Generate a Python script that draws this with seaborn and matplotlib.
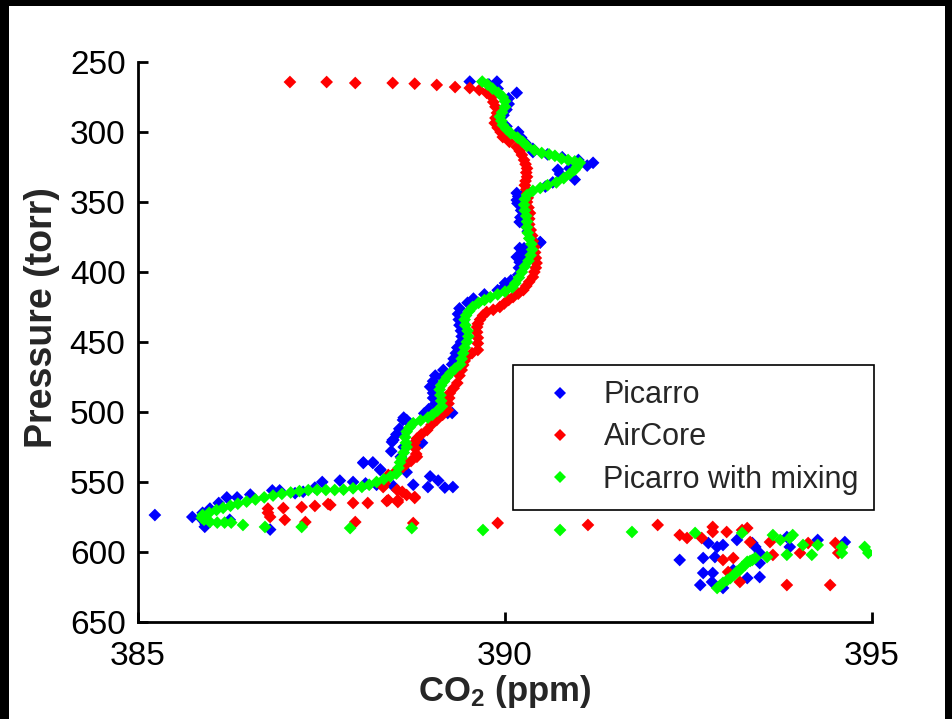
import matplotlib
matplotlib.use("Agg")
import matplotlib.pyplot as plt
import seaborn as sns
import pandas as pd
from matplotlib.patches import Rectangle

# ---------------- data ----------------
picarro_p = [264, 264, 266, 269, 272, 276, 280, 284, 288, 292, 296, 300, 304, 308, 312, 314.3,
             316, 318, 320, 322, 324, 326, 327, 330, 334, 336, 339, 343, 346, 351, 356, 361,
             366, 371, 376, 379, 383, 386, 389, 393, 397, 402, 406, 410, 413, 416, 419, 422,
             426, 430, 434, 438, 442, 446, 450, 454, 458, 462, 466, 470, 474, 478, 482, 486,
             490, 494, 498, 501, 504, 508, 512, 516, 520, 522, 525, 528, 532, 536, 536, 541,
             543, 546, 549, 552, 553.6, 554, 553.6, 549, 550, 550, 554, 557, 558, 556, 556,
             559, 561, 561, 565, 569, 572, 573.6, 575, 576, 578, 580, 582, 577, 584, 553,
             552, 551,
             407.9, 423.6, 435.7, 441.4, 475, 486.4, 490, 500.7, 505.7, 520, 522,
             343.6, 348.6, 364.3, 378.6, 382.9, 389.3, 505.7, 521.4, 522, 536.4, 536.4,
             541.4, 500.7,
             605.7, 604.3, 603.6, 593.6, 595, 591.4, 593.6, 596.4, 600.7, 607.9, 617.9,
             618.6, 615, 615, 623.6, 621.4, 625.7, 589.3, 596.4, 591.4, 592.9, 612.9, 596.4]
picarro_co2 = [389.52, 389.89, 389.78, 389.90, 390.16, 390.05, 390.05, 390.02, 389.98, 389.92,
               390.02, 390.18, 390.22, 390.28, 390.38, 390.38, 390.58, 390.78, 391.00, 391.20,
               391.12, 390.88, 390.72, 390.75, 390.95, 390.65, 390.55, 390.28, 390.18, 390.17,
               390.22, 390.21, 390.26, 390.31, 390.35, 390.48, 390.26, 390.24, 390.22, 390.20,
               390.19, 390.18, 390.08, 390.00, 389.90, 389.72, 389.57, 389.49, 389.38, 389.36,
               389.37, 389.38, 389.40, 389.41, 389.40, 389.35, 389.33, 389.30, 389.28, 389.16,
               389.05, 389.02, 388.98, 389.04, 389.02, 389.05, 388.96, 388.90, 388.62, 388.70,
               388.56, 388.52, 388.48, 388.77, 388.62, 388.45, 388.58, 388.07, 388.20, 388.30,
               388.66, 388.98, 389.09, 388.75, 388.95, 389.18, 389.29, 387.75, 387.93, 387.51,
               387.41, 387.25, 387.14, 386.93, 386.83, 386.53, 386.35, 386.21, 386.10, 385.98,
               385.88, 385.23, 385.74, 385.86, 385.90, 385.92, 385.91, 386.25, 386.80, 388.48,
               388.25, 388.10,
               390.00, 389.55, 389.43, 389.43, 389.14, 389.02, 389.05, 389.28, 388.61, 388.47,
               388.84,
               390.16, 390.16, 390.20, 390.48, 390.20, 390.16, 388.66, 388.46, 388.87, 388.07,
               388.20, 388.30, 389.22,
               392.38, 392.70, 392.86, 392.77, 392.97, 393.16, 393.37, 393.41, 393.47, 393.47,
               393.47, 393.30, 392.70, 392.83, 392.66, 392.82, 392.97, 393.84, 393.88, 394.26,
               394.63, 393.11, 392.89]

aircore_p = [264.3, 264.3, 265, 265, 265.5, 266.4, 267.9, 268.6, 270, 272, 275, 278.6, 282,
             286.4, 290, 293.6, 297, 300, 303.6, 307, 310.7, 313.5, 316.4, 320, 323, 326, 329,
             332, 335, 338, 341, 344, 347, 350, 354, 357.9, 362, 366, 370, 374, 378, 382, 386,
             390, 393.6, 397, 400, 403.6, 407, 410, 412.9, 415.5, 417.9, 420, 422.5, 425, 427,
             428.6, 431, 434, 437, 439.3, 443, 447, 451, 455.7, 458, 460.7, 463.5, 466.4, 470,
             474, 479.3, 483, 486.4, 490, 494, 498.6, 502, 505.7, 509, 512.9, 516, 519, 522,
             526, 530, 532, 535, 537, 539.3, 542, 545, 548, 551, 553.6, 555.7, 557, 559.3, 561.4,
             572, 569, 575, 568.6, 577, 567.9, 578.6, 567.1, 565.7, 565, 578.6, 565, 563.6,
             564.3, 560.7, 579.3, 579.3, 566.4, 562.9, 562.9,
             580.7, 580.7, 587.9, 590, 590, 582.1, 585.7, 585.7, 584.3, 582.9, 592.9, 592.9,
             602.1, 600.7, 593.6, 593.6, 600.7, 605.7, 604.3, 614.3, 621.4, 623.6, 623.6]
aircore_co2 = [387.07, 387.57, 387.96, 388.47, 388.77, 389.07, 389.32, 389.52, 389.65, 389.75,
               389.82, 389.84, 389.87, 389.89, 389.87, 389.86, 389.90, 389.94, 389.97, 390.06,
               390.16, 390.20, 390.23, 390.26, 390.28, 390.30, 390.29, 390.30, 390.28, 390.27,
               390.29, 390.30, 390.31, 390.30, 390.32, 390.34, 390.33, 390.33, 390.35, 390.37,
               390.38, 390.40, 390.41, 390.42, 390.43, 390.42, 390.40, 390.38, 390.33, 390.29,
               390.25, 390.18, 390.11, 390.05, 389.99, 389.93, 389.84, 389.75, 389.70, 389.66,
               389.63, 389.62, 389.62, 389.63, 389.63, 389.63, 389.55, 389.48, 389.45, 389.43,
               389.41, 389.38, 389.35, 389.30, 389.25, 389.24, 389.23, 389.22, 389.15, 389.07,
               389.00, 388.94, 388.86, 388.80, 388.77, 388.78, 388.79, 388.80, 388.72, 388.66,
               388.61, 388.52, 388.41, 388.38, 388.36, 388.34, 388.53, 388.60, 388.66, 388.77,
               386.77, 386.77, 386.80, 386.98, 387.00, 387.23, 387.28, 387.41, 387.59, 387.93,
               387.96, 388.13, 388.39, 388.54, 388.77, 388.75, 389.90, 387.62, 388.41, 388.54,
               391.13, 392.08, 392.38, 392.48, 392.68, 392.83, 392.83, 393.02, 393.23, 393.30,
               393.34, 393.61, 393.65, 394.02, 394.13, 394.50, 394.54, 392.97, 393.11, 393.04,
               393.20, 393.84, 394.43]

mixing_p = [264, 266, 269, 272, 275, 278, 282, 286, 289, 292, 295, 298, 301, 304, 307, 310,
            313, 315, 316, 317, 319, 320, 321, 322, 325, 327, 330, 333, 336, 338, 340, 342, 345,
            348, 352, 356, 360, 364, 368, 372, 376, 380, 384, 388, 392, 396, 400, 404, 408, 411,
            414, 416, 418, 420, 422, 425, 428, 431, 434, 438, 442, 446, 450, 454, 458, 462, 466,
            469, 472, 475, 478, 481, 484, 488, 492, 496, 499, 502, 504, 506, 508, 511, 514, 518,
            522, 525, 529, 533, 536, 540, 544, 546, 548, 550, 552, 553.5, 554.5, 555.5, 555.7,
            555.7, 555.7, 555.8, 556.5, 557.5, 558.5, 559.7, 561, 562.5, 564, 565.5, 567, 568.5,
            570, 572, 573.6, 575.5, 577, 578.5, 579, 579, 579,
            580.7, 582.1, 582.1, 582.9, 582.9, 584.3, 584.3, 585.7,
            586.4, 586.4, 587.9, 591.4, 590, 587.9, 595, 595, 596.4, 600.7, 602, 602, 596.4,
            600.7, 603.6,
            625.7, 624, 622, 620, 618.6, 616.4, 614, 612.9, 610.7, 609.3, 607, 606.4, 605.7,
            604.3]
mixing_co2 = [389.69, 389.76, 389.83, 389.91, 389.97, 390.00, 390.00, 389.96, 389.93, 389.95,
              389.97, 390.02, 390.08, 390.17, 390.24, 390.30, 390.40, 390.50, 390.60, 390.68,
              390.77, 390.86, 390.95, 391.02, 390.98, 390.95, 390.88, 390.80, 390.70, 390.58,
              390.48, 390.38, 390.30, 390.27, 390.26, 390.27, 390.29, 390.30, 390.30, 390.31,
              390.33, 390.36, 390.37, 390.35, 390.32, 390.27, 390.23, 390.19, 390.14, 390.10,
              390.00, 389.90, 389.80, 389.72, 389.64, 389.56, 389.51, 389.47, 389.45, 389.46,
              389.49, 389.50, 389.48, 389.45, 389.43, 389.41, 389.39, 389.32, 389.26, 389.21,
              389.17, 389.13, 389.11, 389.12, 389.13, 389.14, 389.08, 389.01, 388.95, 388.85,
              388.75, 388.70, 388.66, 388.64, 388.65, 388.66, 388.62, 388.59, 388.57, 388.55,
              388.52, 388.44, 388.35, 388.25, 388.15, 388.05, 387.93, 387.80, 387.68, 387.56,
              387.44, 387.32, 387.20, 387.08, 386.96, 386.84, 386.72, 386.60, 386.48, 386.36,
              386.26, 386.16, 386.07, 385.97, 385.88, 385.87, 385.90, 385.98, 386.08, 386.18,
              386.27,
              386.43, 386.73, 387.23, 387.89, 388.73, 389.70, 390.75, 391.73,
              392.59, 393.23, 393.65, 393.75, 393.88, 393.92, 394.06, 394.26, 394.59, 394.59,
              393.84, 394.18, 394.90, 394.95, 393.57,
              392.89, 392.93, 392.97, 393.03, 393.07, 393.12, 393.16, 393.20, 393.23, 393.27,
              393.30, 393.34, 393.37, 393.41]

series_names = ["Picarro", "AirCore", "Picarro with mixing"]
series_colors = ["#0000ff", "#ff0000", "#00ff00"]
x_ticks = [385, 390, 395]
y_ticks = [250, 300, 350, 400, 450, 500, 550, 600, 650]

# ---------------- figure ----------------
sns.set_theme(style="white")
plt.rcParams["font.family"] = ["Liberation Sans", "DejaVu Sans"]
plt.rcParams["mathtext.fontset"] = "custom"
plt.rcParams["mathtext.rm"] = "Liberation Sans"
plt.rcParams["mathtext.bf"] = "Liberation Sans:bold"

df = pd.concat([
    pd.DataFrame({"co2": picarro_co2, "p": picarro_p, "series": series_names[0]}),
    pd.DataFrame({"co2": aircore_co2, "p": aircore_p, "series": series_names[1]}),
    pd.DataFrame({"co2": mixing_co2, "p": mixing_p, "series": series_names[2]}),
], ignore_index=True)

W, H = 952, 719
fig = plt.figure(figsize=(W / 100, H / 100), dpi=100, facecolor="white")
ax = fig.add_axes([138 / W, 1 - 622 / H, (872 - 138) / W, (622 - 62) / H])

sns.scatterplot(data=df, x="co2", y="p", hue="series", hue_order=series_names,
                palette=series_colors, marker="D", s=42, linewidth=0,
                ax=ax, legend=True)

ax.set_xlim(385, 395)
ax.set_ylim(650, 250)
ax.set_xticks(x_ticks)
ax.set_yticks(y_ticks)
ax.set_xticklabels([str(t) for t in x_ticks])
ax.set_yticklabels([str(t) for t in y_ticks])
for side in ["top", "right"]:
    ax.spines[side].set_visible(False)
for side in ["left", "bottom"]:
    ax.spines[side].set_color("black")
    ax.spines[side].set_linewidth(2.0)
ax.tick_params(axis="both", direction="in", length=7, width=2.0, color="black",
               labelsize=24, labelcolor="black", left=True, bottom=True)
ax.tick_params(axis="y", pad=9)
ax.tick_params(axis="x", pad=14)

ax.set_xlabel(r"$\mathbf{CO_2}$ (ppm)", fontsize=25, fontweight="bold")
ax.set_ylabel("Pressure (torr)", fontsize=27, fontweight="bold")
ax.xaxis.set_label_coords(0.5, -(692 - 622) / 560, transform=ax.transAxes)
ax.xaxis.label.set_va("center")
ax.yaxis.set_label_coords(-(138 - 42) / 734, 1 - (318 - 62) / 560, transform=ax.transAxes)
ax.yaxis.label.set_va("center")

handles, labels = ax.get_legend_handles_labels()
for h in handles:
    try:
        h.set_markersize(6)
    except Exception:
        pass
leg = ax.legend(handles, labels, loc="upper left",
                bbox_to_anchor=(513 / W, 1 - 365 / H), bbox_transform=fig.transFigure,
                fontsize=22, frameon=True, fancybox=False, framealpha=1,
                edgecolor="black", borderaxespad=0, handletextpad=0.36,
                labelspacing=0.4, borderpad=0.5, handlelength=2.1)
leg.get_frame().set_linewidth(1.2)

# black border of the picture
fig.add_artist(Rectangle((0, 1 - 6 / H), 1, 6 / H, transform=fig.transFigure,
                         facecolor="black", edgecolor="none"))
fig.add_artist(Rectangle((0, 0), 9 / W, 1, transform=fig.transFigure,
                         facecolor="black", edgecolor="none"))
fig.add_artist(Rectangle((945 / W, 0), 7 / W, 1, transform=fig.transFigure,
                         facecolor="black", edgecolor="none"))

fig.savefig("out.png", dpi=100, facecolor="white")
